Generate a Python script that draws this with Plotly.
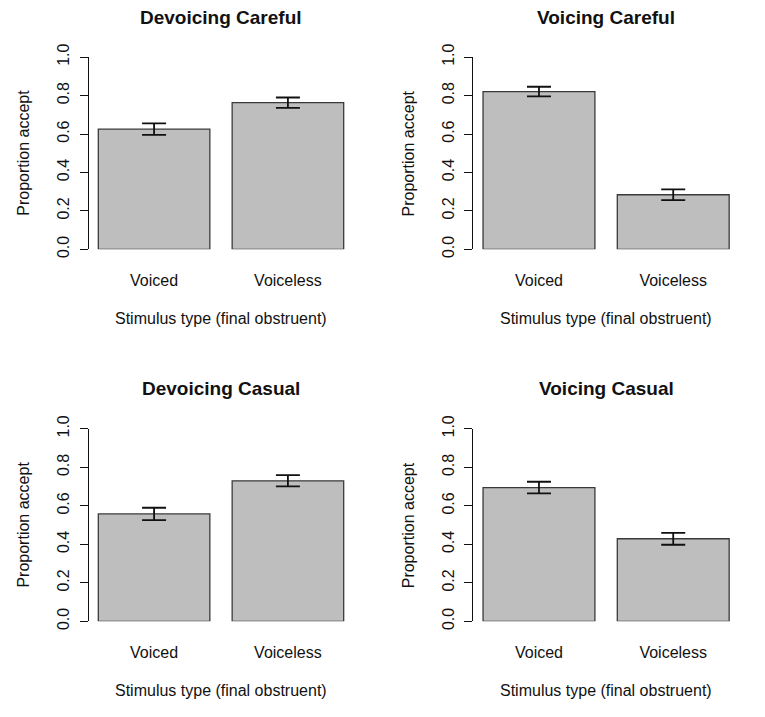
import plotly.graph_objects as go

categories = ["Voiced", "Voiceless"]
panel_titles = ["Devoicing Careful", "Voicing Careful", "Devoicing Casual", "Voicing Casual"]
devoicing_careful = [0.625, 0.763]
voicing_careful = [0.821, 0.284]
devoicing_casual = [0.558, 0.730]
voicing_casual = [0.695, 0.429]
devoicing_careful_err = [0.030, 0.027]
voicing_careful_err = [0.025, 0.028]
devoicing_casual_err = [0.032, 0.029]
voicing_casual_err = [0.030, 0.031]
y_ticks = [0.0, 0.2, 0.4, 0.6, 0.8, 1.0]
x_label = "Stimulus type (final obstruent)"
y_label = "Proportion accept"

W, H = 765, 717
FONT = "Liberation Sans, Arial, Helvetica, sans-serif"

panels = [
    (panel_titles[0], devoicing_careful, devoicing_careful_err),
    (panel_titles[1], voicing_careful, voicing_careful_err),
    (panel_titles[2], devoicing_casual, devoicing_casual_err),
    (panel_titles[3], voicing_casual, voicing_casual_err),
]

# screen-pixel targets -> paper pixel (compensate page offset / scale seen in render)
def px(v):
    return v - 7.5


def py(v):
    return (v - 21.9) / 0.967


# target screen geometry (left, right), (top(1.0), bottom(0.0))
col_px = [(88.0, 353.0), (472.7, 738.5)]
row_px = [(57.0, 249.0), (428.3, 620.7)]

fig = go.Figure()
annotations = []
layout = {}
for i, (title, vals, errs) in enumerate(panels):
    r, c = divmod(i, 2)
    n = "" if i == 0 else str(i + 1)
    xl, xr = px(col_px[c][0]), px(col_px[c][1])
    yt, yb = py(row_px[r][0]), py(row_px[r][1])
    fig.add_trace(go.Bar(
        x=categories, y=vals,
        marker=dict(color="#bebebe", line=dict(color="#3a3a3a", width=1.3)),
        error_y=dict(type="data", array=errs, visible=True, color="#111111",
                     thickness=1.8, width=12),
        xaxis="x" + n, yaxis="y" + n, showlegend=False,
    ))
    layout["xaxis" + n] = dict(
        domain=[xl / W, xr / W], anchor="y" + n, type="category",
        range=[-0.49, 1.49], showline=False, showgrid=False, zeroline=False,
        ticks="outside", ticklen=16, tickcolor="rgba(0,0,0,0)",
        tickfont=dict(family=FONT, size=16, color="#111111"), fixedrange=True,
    )
    layout["yaxis" + n] = dict(
        domain=[(H - yb) / H, (H - yt) / H], anchor="x" + n,
        range=[0, 1], tickvals=y_ticks, tickformat=".1f", tickangle=-90,
        showline=True, linecolor="#111111", linewidth=1,
        ticks="outside", ticklen=8, tickwidth=1, tickcolor="#111111",
        ticklabelstandoff=4,
        showgrid=False, zeroline=False,
        tickfont=dict(family=FONT, size=16, color="#111111"), fixedrange=True,
    )
    cx = (xl + xr) / 2 / W
    annotations.append(dict(text="<b>" + title + "</b>", x=cx, y=1 - py(row_px[r][0] - 40) / H,
                            xref="paper", yref="paper", showarrow=False,
                            font=dict(family=FONT, size=19, color="#111111"),
                            xanchor="center", yanchor="middle"))
    annotations.append(dict(text=x_label, x=cx, y=1 - py(row_px[r][1] + 69) / H,
                            xref="paper", yref="paper", showarrow=False,
                            font=dict(family=FONT, size=16, color="#111111"),
                            xanchor="center", yanchor="middle"))
    annotations.append(dict(text=y_label, x=(xl - 65) / W, y=1 - (yt + yb) / 2 / H,
                            xref="paper", yref="paper", showarrow=False, textangle=-90,
                            font=dict(family=FONT, size=16, color="#111111"),
                            xanchor="center", yanchor="middle"))

fig.update_layout(
    width=W, height=H, margin=dict(l=0, r=0, t=0, b=0),
    paper_bgcolor="white", plot_bgcolor="white",
    bargap=1 - 1 / 1.2, annotations=annotations, **layout,
)
fig.write_html("out.html")
